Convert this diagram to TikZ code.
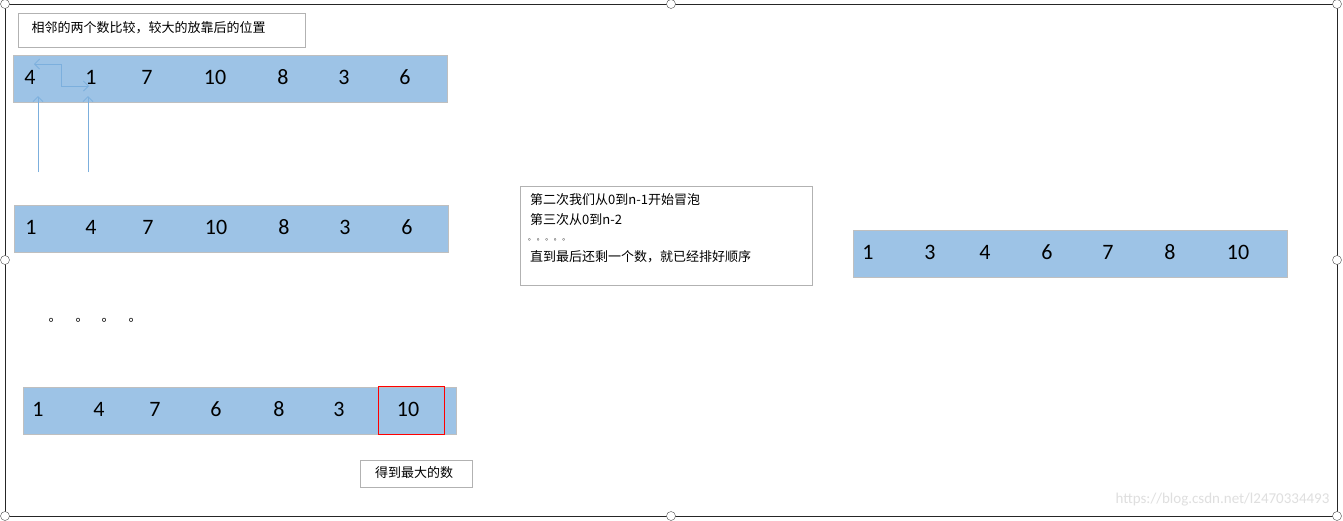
\documentclass[tikz,border=0pt]{standalone}
\usepackage{fontspec}
\setmainfont{Carlito}
\newfontfamily\cjk{Noto Sans CJK SC}
\usetikzlibrary{arrows.meta}
\definecolor{cellblue}{HTML}{9DC3E6}
\definecolor{arrblue}{HTML}{5B9BD5}
\tikzset{
  arr/.style={fill=cellblue,draw=gray!50,line width=0.8pt},
  num/.style={font=\fontsize{22}{24}\selectfont,anchor=center,inner sep=0},
  lbl/.style={draw=gray!60,line width=0.8pt,fill=white},
  handle/.style={circle,draw=black!70,fill=white,minimum size=9pt,inner sep=0},
  ptr/.style={draw=arrblue!80,line width=0.8pt,-{Straight Barb[length=5pt,width=10pt]}}
}
\begin{document}
\begin{tikzpicture}[x=1pt,y=-1pt]
\useasboundingbox (0,0) rectangle (1343,520);
\fill[white] (0,0) rectangle (1343,520);
% frame
\draw[black!85,line width=1pt] (5,4) rectangle (1337,516);
\foreach \p/\q in {5/4,671/4,1337/4,5/260,1337/260,5/516,671/516,1337/516}
  \node[handle] at (\p,\q) {};
% label 1
\node[lbl,minimum width=287pt,minimum height=34pt,anchor=north west] (l1) at (18,13) {};
\node[anchor=west,font=\cjk\fontsize{13}{15}\selectfont] at (28,28) {相邻的两个数比较，较大的放靠后的位置};
% row 1
\draw[arr] (13,55) rectangle (447,102);
\foreach \x/\v [count=\i] in {30/4,91/1,147/7,215/10,283/8,344/3,405/6}
  \node[num] (a\i) at (\x,77) {\v};
% arrows
\coordinate (s1) at (38,172); \coordinate (e1) at (38,96);
\coordinate (s2) at (88,172); \coordinate (e2) at (88,96);
\draw[ptr] (s1) -- (e1);
\draw[ptr] (s2) -- (e2);
\coordinate (k1) at (61,64); \coordinate (k2) at (61,86); \coordinate (k3) at (89,86); \coordinate (k0) at (34,64);
\draw[ptr,{Straight Barb[length=5pt,width=10pt]}-{Straight Barb[length=5pt,width=10pt]}] (k0) -- (k1) -- (k2) -- (k3);
% row 2
\draw[arr] (14,205) rectangle (448,252);
\foreach \x/\v [count=\i] in {31/1,91/4,148/7,216/10,284/8,345/3,407/6}
  \node[num] (b\i) at (\x,227) {\v};
% dots
\foreach \x in {55,82,108,135}
  \node[font=\cjk\fontsize{13}{15}\selectfont] at (\x,320) {。};
% row 3
\draw[arr] (23,387) rectangle (456,434);
\foreach \x/\v [count=\i] in {38/1,99/4,155/7,216/6,279/8,339/3,408/10}
  \node[num] (c\i) at (\x,409) {\v};
\draw[red,line width=1pt] (378,386) rectangle (444,434);
% label 3
\node[lbl,minimum width=112pt,minimum height=27pt,anchor=north west] (l3) at (360,460) {};
\node[font=\cjk\fontsize{13}{15}\selectfont] at (414,473) {得到最大的数};
% label 2
\node[lbl,minimum width=292pt,minimum height=99pt,anchor=north west] (l2) at (520,186) {};
\begin{scope}[every node/.style={anchor=west,font=\cjk\fontsize{13}{15}\selectfont,inner sep=0}]
\node at (530,200) {第二次我们从0到n-1开始冒泡};
\node at (530,220) {第三次从0到n-2};
\node[font=\cjk\fontsize{7}{8}\selectfont] at (528,240) {。\ 。\ 。\ 。\ 。};
\node at (530,257) {直到最后还剩一个数，就已经排好顺序};
\end{scope}
% row 4
\draw[arr] (853,230) rectangle (1287,277);
\foreach \x/\v [count=\i] in {868/1,930/3,985/4,1047/6,1108/7,1170/8,1238/10}
  \node[num] (d\i) at (\x,252) {\v};
% watermark
\node[anchor=east,text=gray!25,font=\fontsize{15}{16}\selectfont] at (1333,500) {https://blog.csdn.net/l2470334493};
\end{tikzpicture}
\end{document}
